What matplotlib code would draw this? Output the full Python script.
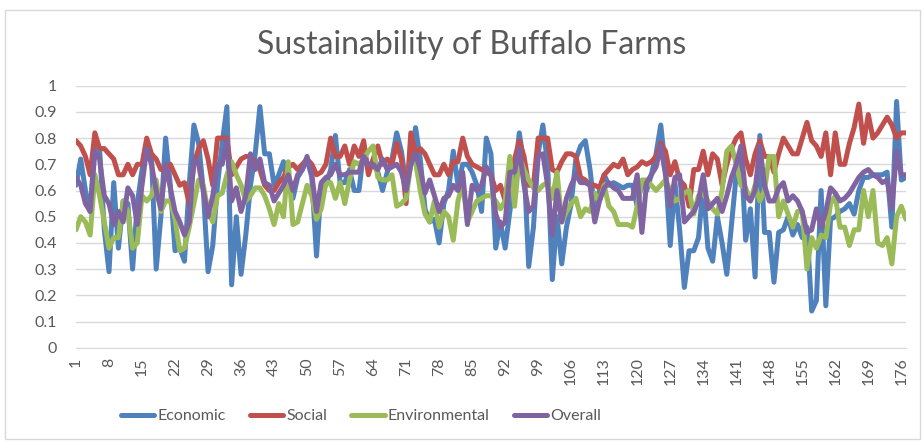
import matplotlib
matplotlib.use("Agg")
import matplotlib.pyplot as plt
from matplotlib.patches import Rectangle

title = "Sustainability of Buffalo Farms"
series_names = ["Economic", "Social", "Environmental", "Overall"]

economic = [0.62,0.72,0.60,0.52,0.78,0.76,0.45,0.29,0.63,0.38,0.56,0.55,0.30,0.55,0.68,0.75,0.73,0.30,0.50,0.80,0.62,0.37,0.38,0.33,0.62,0.85,0.78,0.60,0.29,
            0.39,0.62,0.78,0.92,0.24,0.50,0.28,0.43,0.62,0.74,0.92,0.74,0.74,0.62,0.66,0.71,0.62,0.57,0.65,0.68,0.72,0.65,0.35,0.62,0.62,0.68,0.81,0.63,0.63,0.68,
            0.60,0.60,0.75,0.68,0.70,0.67,0.60,0.67,0.72,0.82,0.75,0.62,0.70,0.84,0.72,0.53,0.48,0.49,0.40,0.55,0.60,0.75,0.62,0.70,0.70,0.67,0.62,0.52,0.80,
            0.74,0.38,0.48,0.38,0.52,0.65,0.82,0.70,0.31,0.46,0.74,0.85,0.70,0.26,0.50,0.32,0.46,0.55,0.72,0.77,0.79,0.68,0.52,0.60,0.66,0.62,0.63,0.62,0.61,0.62,
            0.62,0.54,0.63,0.60,0.66,0.74,0.85,0.68,0.39,0.63,0.45,0.23,0.37,0.37,0.42,0.62,0.38,0.33,0.50,0.40,0.28,0.47,0.66,0.76,0.41,0.53,0.27,0.81,0.44,0.44,
            0.25,0.44,0.45,0.50,0.43,0.47,0.42,0.46,0.14,0.18,0.60,0.16,0.49,0.50,0.52,0.53,0.55,0.51,0.60,0.65,0.65,0.66,0.66,0.66,0.67,0.46,0.94,0.64,0.65]

social = [0.79,0.77,0.73,0.66,0.82,0.76,0.76,0.74,0.72,0.66,0.66,0.70,0.66,0.70,0.70,0.80,0.74,0.72,0.68,0.68,0.70,0.66,0.62,0.63,0.55,0.70,0.76,0.79,0.72,
          0.62,0.80,0.80,0.80,0.66,0.69,0.72,0.73,0.73,0.71,0.68,0.62,0.60,0.60,0.63,0.65,0.69,0.70,0.68,0.70,0.72,0.70,0.66,0.67,0.70,0.80,0.73,0.73,0.77,0.70,
          0.77,0.73,0.79,0.66,0.72,0.77,0.70,0.72,0.70,0.78,0.72,0.55,0.82,0.74,0.76,0.74,0.70,0.66,0.66,0.70,0.66,0.71,0.71,0.80,0.73,0.70,0.69,0.68,0.67,
          0.66,0.60,0.62,0.56,0.66,0.72,0.79,0.73,0.62,0.62,0.80,0.80,0.80,0.68,0.67,0.71,0.74,0.74,0.73,0.65,0.64,0.62,0.62,0.61,0.66,0.68,0.70,0.69,0.72,0.66,
          0.68,0.69,0.71,0.70,0.71,0.73,0.78,0.75,0.66,0.71,0.64,0.62,0.54,0.68,0.68,0.75,0.66,0.74,0.72,0.62,0.70,0.76,0.80,0.82,0.72,0.66,0.74,0.79,0.73,0.73,
          0.67,0.74,0.80,0.77,0.74,0.74,0.80,0.86,0.79,0.77,0.73,0.82,0.66,0.82,0.70,0.70,0.78,0.84,0.93,0.78,0.89,0.80,0.82,0.85,0.88,0.85,0.80,0.82,0.82]

environmental = [0.45,0.50,0.48,0.43,0.66,0.58,0.48,0.38,0.42,0.42,0.56,0.52,0.38,0.40,0.58,0.56,0.58,0.64,0.52,0.56,0.56,0.49,0.37,0.38,0.46,0.55,0.64,0.62,0.52,
                 0.48,0.58,0.59,0.66,0.71,0.66,0.62,0.56,0.58,0.61,0.61,0.58,0.53,0.47,0.55,0.50,0.71,0.47,0.48,0.55,0.62,0.58,0.49,0.53,0.63,0.63,0.57,0.63,0.55,0.64,
                 0.71,0.70,0.72,0.75,0.77,0.65,0.64,0.64,0.66,0.54,0.55,0.57,0.70,0.71,0.60,0.51,0.48,0.56,0.46,0.52,0.50,0.41,0.56,0.63,0.48,0.52,0.56,0.57,0.58,
                 0.58,0.56,0.53,0.56,0.73,0.54,0.73,0.68,0.64,0.61,0.60,0.62,0.63,0.57,0.67,0.48,0.52,0.55,0.57,0.50,0.53,0.52,0.59,0.56,0.62,0.54,0.52,0.47,0.47,0.47,
                 0.46,0.54,0.64,0.64,0.62,0.60,0.62,0.64,0.60,0.56,0.57,0.59,0.60,0.51,0.58,0.59,0.56,0.53,0.51,0.60,0.75,0.77,0.70,0.62,0.61,0.56,0.62,0.56,0.60,0.73,
                 0.73,0.50,0.56,0.51,0.46,0.52,0.52,0.30,0.42,0.38,0.43,0.42,0.55,0.58,0.46,0.46,0.39,0.45,0.45,0.60,0.50,0.60,0.40,0.39,0.42,0.32,0.50,0.54,0.49]

overall = [0.65,0.62,0.55,0.52,0.75,0.72,0.58,0.55,0.47,0.52,0.48,0.61,0.58,0.47,0.62,0.76,0.70,0.60,0.53,0.70,0.61,0.52,0.48,0.43,0.48,0.72,0.70,0.60,0.50,
           0.58,0.70,0.70,0.79,0.56,0.61,0.52,0.58,0.74,0.68,0.72,0.63,0.62,0.56,0.59,0.62,0.66,0.60,0.66,0.68,0.73,0.66,0.52,0.63,0.65,0.66,0.70,0.66,0.66,0.67,
           0.67,0.67,0.73,0.70,0.70,0.68,0.72,0.68,0.69,0.70,0.67,0.60,0.70,0.74,0.68,0.59,0.64,0.58,0.52,0.57,0.58,0.62,0.60,0.67,0.47,0.62,0.60,0.62,0.69,
           0.66,0.51,0.46,0.48,0.67,0.67,0.76,0.62,0.52,0.54,0.73,0.74,0.62,0.43,0.60,0.48,0.57,0.62,0.66,0.63,0.63,0.62,0.48,0.56,0.61,0.63,0.61,0.60,0.57,0.57,
           0.57,0.66,0.44,0.63,0.66,0.69,0.77,0.66,0.54,0.65,0.66,0.48,0.50,0.52,0.56,0.66,0.53,0.55,0.57,0.52,0.58,0.65,0.70,0.77,0.58,0.56,0.60,0.77,0.62,0.56,
           0.56,0.61,0.63,0.56,0.58,0.56,0.52,0.44,0.45,0.53,0.46,0.52,0.61,0.59,0.56,0.57,0.59,0.62,0.65,0.67,0.68,0.66,0.65,0.63,0.64,0.53,0.75,0.66,0.66]

tick_labels = [str(v) for v in range(1, 177, 7)]
y_ticks = [0, 0.1, 0.2, 0.3, 0.4, 0.5, 0.6, 0.7, 0.8, 0.9, 1]
colors = ["#4F81BD", "#C0504D", "#9BBB59", "#8064A2"]

plt.rcParams['font.family'] = ['Lato', 'DejaVu Sans']
txt = "#595959"

fig = plt.figure(figsize=(9.24, 4.42), dpi=100)
fig.patches.append(Rectangle((5/924, 3/442), 915/924, 429/442, transform=fig.transFigure,
                             fill=False, edgecolor="#D9D9D9", lw=1))
ax = fig.add_axes([76/924, 1-347.7/442, 830/924, (347.7-85.7)/442])

for vals, name, c in zip([economic, social, environmental, overall], series_names, colors):
    xs = list(range(1, len(vals) + 1))
    ax.plot(xs, vals, color=c, lw=3.6, label=name, solid_joinstyle='round', solid_capstyle='round')

n = max(len(economic), len(social), len(environmental), len(overall))
ax.set_xlim(1, n)
ax.set_ylim(0, 1)
ax.set_yticks(y_ticks)
ax.set_yticklabels([("%g" % v) for v in y_ticks])
ax.set_xticks([int(t) for t in tick_labels])
ax.set_xticklabels(tick_labels, rotation=90)
ax.tick_params(axis='both', length=0, labelsize=11.5, labelcolor=txt)
ax.tick_params(axis='y', pad=14)
ax.tick_params(axis='x', pad=7)
ax.grid(axis='y', color="#D9D9D9", lw=1)
ax.set_axisbelow(True)
for s in ['top', 'right', 'left']:
    ax.spines[s].set_visible(False)
ax.spines['bottom'].set_color("#D9D9D9")

fig.text(472/924, 1-45/442, title, ha='center', va='center', fontsize=23, color=txt)

leg = fig.legend(loc='center', bbox_to_anchor=(361/924, 1-416/442), ncol=4, frameon=False,
                 fontsize=11.5, handlelength=2.1, handletextpad=0.2, columnspacing=1.5)
for t in leg.get_texts():
    t.set_color(txt)
for h in leg.get_lines():
    h.set_linewidth(3.6)

fig.savefig("out.png", dpi=100)
